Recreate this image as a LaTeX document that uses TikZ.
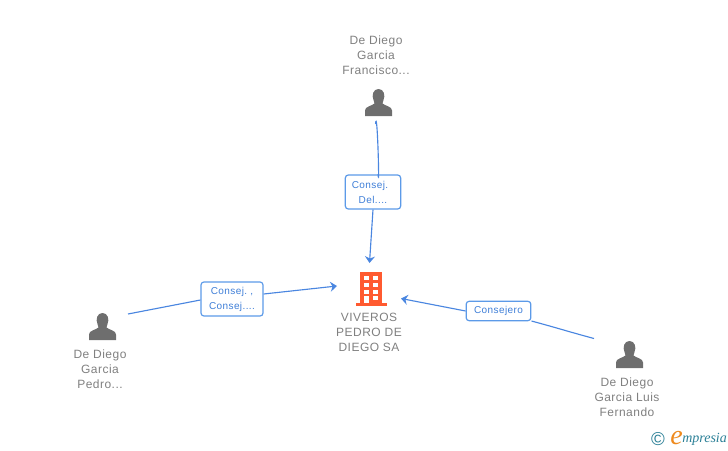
\documentclass[tikz,border=0pt]{standalone}
\usepackage{fontspec}
\setmainfont[LetterSpace=4]{Liberation Sans}
\newfontfamily\logofont{Liberation Serif}
\usetikzlibrary{arrows.meta}
\definecolor{linkblue}{HTML}{4A86E0}
\definecolor{boxblue}{HTML}{5C9AE8}
\definecolor{labelblue}{HTML}{3F7FD8}
\definecolor{namegrey}{HTML}{808080}
\definecolor{icongrey}{HTML}{6E6E6E}
\definecolor{buildred}{HTML}{FF5A30}
\definecolor{logoteal}{HTML}{2A7F96}
\definecolor{logoorange}{HTML}{EE8A1E}
\tikzset{
	namelabel/.style={text=namegrey, font=\fontsize{9}{11.25}\selectfont, align=center, inner sep=0pt},
	rolebox/.style={draw=boxblue, line width=0.9pt, rounded corners=2.2pt, fill=white, text=labelblue, font=\fontsize{7.5}{11.25}\selectfont, align=center, inner sep=0pt},
	link/.style={draw=linkblue, line width=0.85pt},
	personicon/.pic={
		\fill[icongrey] (-13.5,13.5) -- (-13.5,8) .. controls (-13.5,4) and (-7,3.5) .. (-4,1) .. controls (-4,0) and (-4.5,-1) .. (-5,-2.5) .. controls (-7,-7) and (-5.5,-13.5) .. (0,-13.5) .. controls (5.5,-13.5) and (7,-7) .. (5,-2.5) .. controls (4.5,-1) and (4,0) .. (4,1) .. controls (7,3.5) and (13.5,4) .. (13.5,8) -- (13.5,13.5) -- cycle;
	},
}

\begin{document}
\begin{tikzpicture}[x=0.75pt,y=-0.75pt]
	\useasboundingbox (0,0) rectangle (728,450);
	
	% people
	\pic at (378.5,102.5) {personicon};
	\pic at (102.5,326.5) {personicon};
	\pic at (629.5,354.5) {personicon};
	\node[namelabel] (topname) at (376,55) {De Diego\\Garcia\\Francisco...};
	\node[namelabel] (leftname) at (100,369) {De Diego\\Garcia\\Pedro...};
	\node[namelabel] (rightname) at (627,397) {De Diego\\Garcia Luis\\Fernando};
	
	% company
	\fill[buildred] (356,303) rectangle (387,306);
	\fill[buildred] (360,272) rectangle (382,303);
	\foreach \y in {276,283,290}{
		\fill[white] (364,\y) rectangle (369,\y+4);
		\fill[white] (373,\y) rectangle (378,\y+4);
	}
	\fill[white] (364,296) rectangle (369,303);
	\fill[white] (373,296) rectangle (378,300);
	\node[namelabel] (company) at (369,332.5) {VIVEROS\\PEDRO DE\\DIEGO SA};
	
	% free ends of the connectors
	\coordinate (topstart) at (375.5,124);
	\coordinate (topend) at (369.5,263);
	\coordinate (leftstart) at (128,314);
	\coordinate (leftend) at (337,286);
	\coordinate (rightstart) at (594,338.5);
	\coordinate (rightend) at (401,298.5);
	
	% role boxes
	\node[rolebox, minimum width=41.5pt, minimum height=25.5pt] (toprole) at (373,192) {Consej.\phantom{\ .}\\Del....};
	\node[rolebox, minimum width=46.5pt, minimum height=25.5pt] (leftrole) at (232,299) {Consej.\ ,\\Consej....};
	\node[rolebox, minimum width=48.5pt, minimum height=14.5pt] (rightrole) at (498.5,311) {Consejero};
	
	% connectors
	\draw[link] (topstart) to[out=85,in=-85] ([xshift=3.75pt]toprole.north);
	\draw[link,-{Stealth[length=5pt,width=7.5pt]}] (toprole.south) -- (topend);
	\draw[link] (leftstart) -- ([yshift=-0.75pt]leftrole.west);
	\draw[link,-{Stealth[length=5pt,width=7.5pt]}] ([yshift=3.75pt]leftrole.east) -- (leftend);
	\draw[link] (rightstart) to[out=165,in=-15] ([yshift=-7.5pt]rightrole.east);
	\draw[link,-{Stealth[length=5pt,width=7.5pt]}] (rightrole.west) -- (rightend);
	
	% logo
	\node[text=logoteal, font=\fontsize{14}{14}\selectfont, inner sep=0pt] (logomark) at (658,439) {\textcopyright};
	\node[text=logoorange, font=\logofont\itshape\fontsize{21}{21}\selectfont, inner sep=0pt, anchor=base west] (logoe) at (670,444) {e};
	\node[text=logoteal, font=\logofont\itshape\fontsize{10.5}{10.5}\selectfont, inner sep=0pt, anchor=base west] (logotext) at (682,442) {mpresia};
\end{tikzpicture}
\end{document}
